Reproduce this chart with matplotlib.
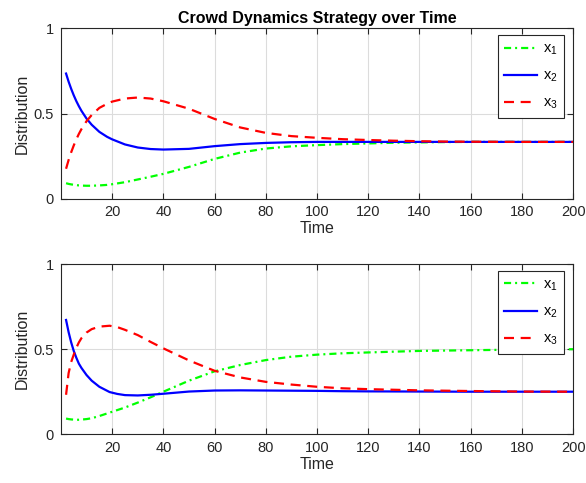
import matplotlib
matplotlib.use("Agg")
import matplotlib.pyplot as plt

plt.rcParams['font.family'] = ['Liberation Sans', 'DejaVu Sans']

# ---- data ----
t_top = [2, 3, 4, 5, 6, 7, 8, 10, 12, 15, 18, 20, 25, 30, 35, 40, 50, 60, 70, 80, 90, 100, 110, 120, 130, 140, 150, 160, 180, 200]
x1_top = [0.090, 0.086, 0.083, 0.081, 0.079, 0.077, 0.076, 0.075, 0.075, 0.077, 0.080, 0.084, 0.096, 0.112, 0.128, 0.145, 0.186, 0.233, 0.270, 0.294, 0.307, 0.314, 0.320, 0.324, 0.328, 0.330, 0.332, 0.333, 0.333, 0.333]
x2_top = [0.735, 0.687, 0.645, 0.607, 0.573, 0.543, 0.516, 0.470, 0.434, 0.392, 0.363, 0.348, 0.318, 0.300, 0.291, 0.288, 0.292, 0.308, 0.320, 0.327, 0.331, 0.333, 0.333, 0.333, 0.333, 0.333, 0.333, 0.333, 0.333, 0.333]
x3_top = [0.175, 0.227, 0.272, 0.312, 0.348, 0.380, 0.408, 0.455, 0.491, 0.533, 0.557, 0.570, 0.588, 0.594, 0.588, 0.572, 0.528, 0.468, 0.418, 0.386, 0.367, 0.357, 0.349, 0.344, 0.340, 0.337, 0.335, 0.334, 0.333, 0.333]

t_bot = [2, 3, 4, 5, 6, 7, 8, 10, 12, 15, 19, 22, 25, 30, 35, 40, 50, 60, 70, 80, 90, 100, 110, 120, 140, 160, 180, 200]
x1_bot = [0.092, 0.089, 0.087, 0.086, 0.085, 0.085, 0.086, 0.089, 0.094, 0.107, 0.127, 0.142, 0.157, 0.186, 0.217, 0.250, 0.315, 0.370, 0.407, 0.436, 0.456, 0.468, 0.476, 0.481, 0.490, 0.494, 0.498, 0.500]
x2_bot = [0.672, 0.600, 0.540, 0.490, 0.450, 0.415, 0.390, 0.348, 0.315, 0.279, 0.248, 0.237, 0.230, 0.228, 0.232, 0.238, 0.251, 0.257, 0.258, 0.257, 0.256, 0.255, 0.253, 0.252, 0.251, 0.250, 0.250, 0.250]
x3_bot = [0.232, 0.360, 0.425, 0.468, 0.508, 0.540, 0.565, 0.598, 0.618, 0.633, 0.638, 0.630, 0.614, 0.583, 0.543, 0.505, 0.434, 0.373, 0.334, 0.308, 0.292, 0.279, 0.270, 0.265, 0.258, 0.254, 0.251, 0.250]

labels = [r'$\mathregular{x_1}$', r'$\mathregular{x_2}$', r'$\mathregular{x_3}$']
colors = ['#00ff00', '#0000ff', '#ff0000']
styles = [(0, (3.2, 1.8, 0.9, 1.8)), '-', (0, (4.5, 3.0))]
xticks = [20, 40, 60, 80, 100, 120, 140, 160, 180, 200]
yticks = [0, 0.5, 1]
ytick_labels = ['0', '0.5', '1']

fig = plt.figure(figsize=(5.86, 4.83), dpi=100)
ax_top = fig.add_axes([0.104, 0.589, 0.874, 0.352])
ax_bot = fig.add_axes([0.104, 0.101, 0.874, 0.352])

dark = '#262626'
for ax, t, series in [(ax_top, t_top, (x1_top, x2_top, x3_top)),
                      (ax_bot, t_bot, (x1_bot, x2_bot, x3_bot))]:
    for y, c, ls, lab in zip(series, colors, styles, labels):
        ax.plot(t, y, color=c, linestyle=ls, linewidth=1.6, label=lab)
    ax.set_xlim(0, 200)
    ax.set_ylim(0, 1)
    ax.set_xticks(xticks)
    ax.set_yticks(yticks)
    ax.set_yticklabels(ytick_labels)
    ax.grid(True, color='#dcdcdc', linewidth=0.8)
    ax.set_axisbelow(True)
    ax.tick_params(direction='in', top=True, right=True, length=4, width=0.8,
                   colors=dark, labelsize=10.5, labelcolor=dark, pad=5)
    for sp in ax.spines.values():
        sp.set_color(dark)
        sp.set_linewidth(0.8)
    ax.set_xlabel('Time', fontsize=11.5, color=dark, labelpad=1)
    ax.set_ylabel('Distribution', fontsize=11.5, color=dark, labelpad=3)
    leg = ax.legend(loc='upper right', bbox_to_anchor=(0.983, 0.96), fontsize=10.5,
                    handlelength=2.2, labelspacing=0.8, borderpad=0.45,
                    handletextpad=0.45, fancybox=False, framealpha=1,
                    edgecolor=dark, borderaxespad=0)
    leg.get_frame().set_linewidth(0.8)

ax_top.set_title('Crowd Dynamics Strategy over Time', fontsize=11.5, fontweight='bold', pad=4)

fig.savefig('out.png', dpi=100)
